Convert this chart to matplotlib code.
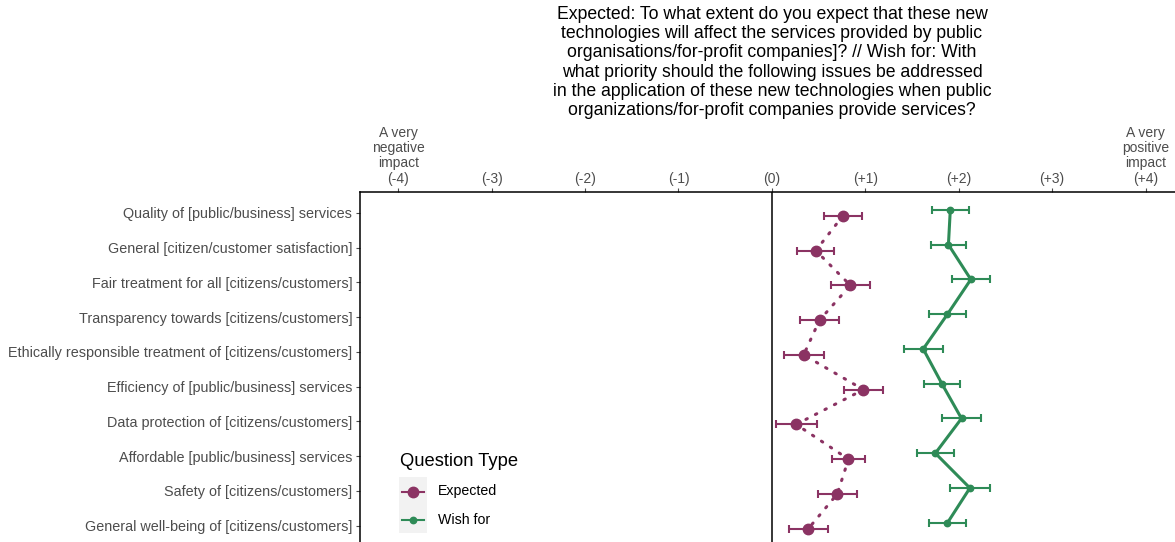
import matplotlib
matplotlib.use("Agg")
import matplotlib.pyplot as plt
from matplotlib.lines import Line2D
from matplotlib.patches import Rectangle
import numpy as np

plt.rcParams["font.family"] = ["Liberation Sans", "DejaVu Sans"]

# survey items, top to bottom
items = [
    "Quality of [public/business] services",
    "General [citizen/customer satisfaction]",
    "Fair treatment for all [citizens/customers]",
    "Transparency towards [citizens/customers]",
    "Ethically responsible treatment of [citizens/customers]",
    "Efficiency of [public/business] services",
    "Data protection of [citizens/customers]",
    "Affordable [public/business] services",
    "Safety of [citizens/customers]",
    "General well-being of [citizens/customers]",
]

# mean ratings and 95% CI half-widths
expected_mean = [0.76, 0.47, 0.84, 0.51, 0.34, 0.98, 0.26, 0.82, 0.70, 0.39]
expected_ci = [0.20, 0.20, 0.205, 0.205, 0.215, 0.205, 0.22, 0.18, 0.21, 0.21]
wish_mean = [1.91, 1.89, 2.13, 1.88, 1.62, 1.82, 2.03, 1.75, 2.12, 1.88]
wish_ci = [0.20, 0.19, 0.205, 0.20, 0.21, 0.19, 0.21, 0.195, 0.21, 0.195]

scale_ticks = [-4, -3, -2, -1, 0, 1, 2, 3, 4]
scale_labels = ["A very\nnegative\nimpact\n(-4)", "(-3)", "(-2)", "(-1)", "(0)",
                "(+1)", "(+2)", "(+3)", "A very\npositive\nimpact\n(+4)"]

title = ("Expected: To what extent do you expect that these new\n"
         "technologies will affect the services provided by public\n"
         "organisations/for-profit companies]? // Wish for: With\n"
         "what priority should the following issues be addressed\n"
         "in the application of these new technologies when public\n"
         "organizations/for-profit companies provide services?")

col_exp = "#8B3363"
col_wish = "#2E8B57"
grey30 = "#4D4D4D"

W, H = 1175, 542
fig = plt.figure(figsize=(W / 100, H / 100), dpi=100)
# panel runs a little past the right and bottom edges of the canvas
ax = fig.add_axes([360 / W, 1 - 546.6 / H, 823.8 / W, 354.6 / H])

pos = np.arange(len(items))
dodge = 0.085

ax.axvline(0, color="black", lw=1.1, zorder=1)

ax.plot(expected_mean, pos + dodge, color=col_exp, lw=2.2,
        linestyle=(0, (0.5, 3.0)), dash_capstyle="round", zorder=2)
ax.errorbar(expected_mean, pos + dodge, xerr=expected_ci, fmt="o", color=col_exp,
            ms=7.5, elinewidth=1.5, capsize=2.6, capthick=1.5, zorder=3)

ax.plot(wish_mean, pos - dodge, color=col_wish, lw=2.2, zorder=2)
ax.errorbar(wish_mean, pos - dodge, xerr=wish_ci, fmt="o", color=col_wish,
            ms=4.6, elinewidth=1.5, capsize=2.6, capthick=1.5, zorder=3)

ax.set_xlim(-4.41, 4.41)
ax.set_ylim(len(items) - 0.4, -0.6)

ax.xaxis.tick_top()
ax.set_xticks(scale_ticks)
ax.set_xticklabels(scale_labels, fontsize=10, color=grey30)
for lab in ax.get_xticklabels():
    lab.set_linespacing(1.12)
ax.set_yticks(pos)
ax.set_yticklabels(items, fontsize=10.4, color=grey30)
ax.tick_params(axis="x", length=3, width=0.8, color=grey30, pad=1.5)
ax.tick_params(axis="y", length=3, width=0.8, color=grey30, pad=2.5)

for side in ["right", "bottom"]:
    ax.spines[side].set_visible(False)
for side in ["top", "left"]:
    ax.spines[side].set_color("black")
    ax.spines[side].set_linewidth(1.1)

fig.text(772 / W, 1 - 6 / H, title, ha="center", va="top", fontsize=12.7,
         linespacing=1.17, multialignment="center")

# legend drawn inside the panel, lower left
fig.patches.append(Rectangle((399 / W, 1 - 533 / H), 28 / W, 56.5 / H,
                             transform=fig.transFigure, facecolor="#F2F2F2",
                             edgecolor="none", zorder=0))
fig.text(400 / W, 1 - 461.5 / H, "Question Type", ha="left", va="center", fontsize=13.2)
legend_rows = [("Expected", col_exp, 7.5, 491.5),
               ("Wish for", col_wish, 4.6, 519.5)]
for name, col, ms, yy in legend_rows:
    fig.lines.append(Line2D([402 / W, 424 / W], [1 - yy / H] * 2, transform=fig.transFigure,
                            color=col, lw=1.5))
    fig.lines.append(Line2D([413.3 / W], [1 - yy / H], transform=fig.transFigure,
                            color=col, marker="o", ms=ms, lw=0))
    fig.text(438 / W, 1 - yy / H, name, ha="left", va="center", fontsize=10.2, color="black")

fig.savefig("out.png", dpi=100)
